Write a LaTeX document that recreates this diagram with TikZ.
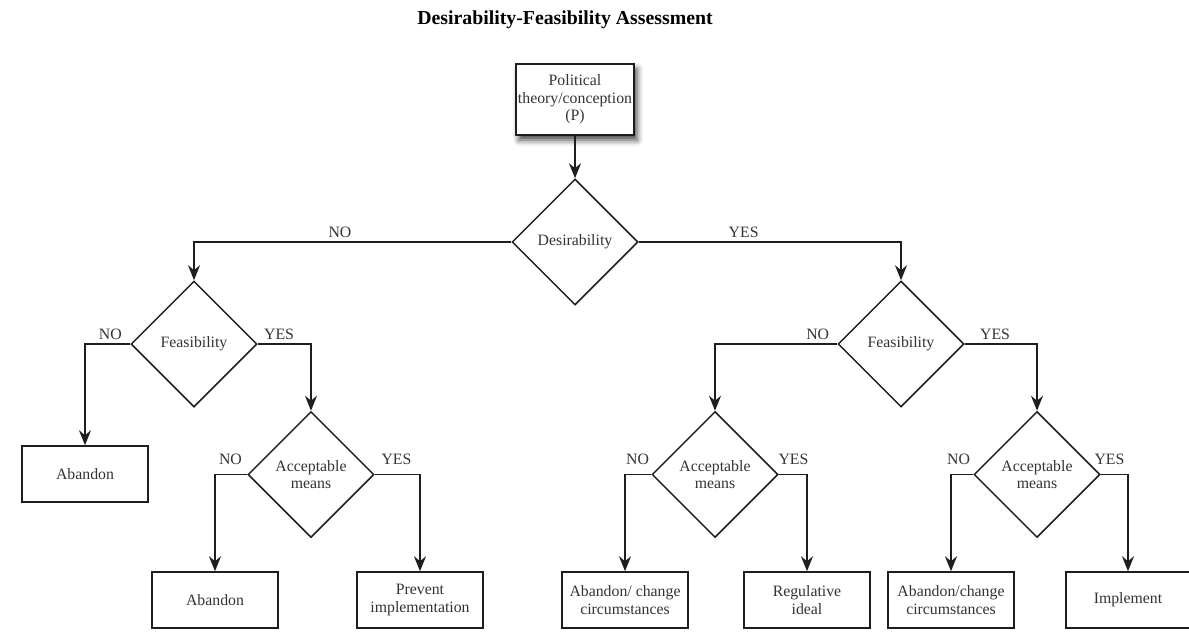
\documentclass[tikz,border=0pt]{standalone}
\usepackage{fontspec}
\setmainfont{Liberation Serif}
\usetikzlibrary{arrows.meta, positioning, shapes.geometric, shadows.blur}
\definecolor{ink}{HTML}{1E1E1E}
\definecolor{txt}{HTML}{333333}
\tikzset{
  font=\fontsize{15.8}{17.5}\selectfont,
  >={Stealth[length=15pt, width=12pt, inset=5pt]},
  %
  box/.style={
    draw=ink, line width=1.5pt, fill=white, align=center, text=txt,
    minimum width=126pt, minimum height=56pt, inner sep=2pt,
  },
  startbox/.style={box, minimum width=114pt, minimum height=71pt,
    blur shadow={shadow xshift=3pt, shadow yshift=-5pt,
                 shadow blur radius=6pt, shadow opacity=75}},
  decision/.style={
    diamond, draw=ink, line width=1.5pt, fill=white, align=center,
    text=txt, minimum size=126pt, inner sep=0pt,
  },
  %
  flow/.style={draw=ink, line width=1.8pt, ->},
  lbl/.style={text=txt, inner sep=3.5pt},
  lblhi/.style={lbl, yshift=5pt},
}
\begin{document}
\begin{tikzpicture}[x=1pt, y=-1pt]

  \useasboundingbox (0,0) rectangle (1189,632);

  \node[font=\fontsize{19.8}{22}\selectfont\bfseries] (title) at (565,20)
    {Desirability-Feasibility Assessment};

  \node[startbox] (pol) at (575,99.5) {Political\\theory/conception\\(P)};

  % decisions
  \node[decision] (des)   at (575,242)   {Desirability};
  \node[decision] (feasL) at (194,344)   {Feasibility};
  \node[decision] (feasR) at (901,344)   {Feasibility};
  \node[decision] (accL)  at (311,474.5) {Acceptable\\means};
  \node[decision] (accM)  at (715,474.5) {Acceptable\\means};
  \node[decision] (accR)  at (1037,474.5) {Acceptable\\means};

  % outcomes
  \node[box] (abandonA) at (85,474)   {Abandon};
  \node[box] (abandonB) at (215,600)  {Abandon};
  \node[box] (prevent)  at (420,600)  {Prevent\\implementation};
  \node[box] (changeA)  at (625,600)  {Abandon/ change\\circumstances};
  \node[box] (ideal)    at (807,600)  {Regulative\\ideal};
  \node[box] (changeB)  at (951,600)  {Abandon/change\\circumstances};
  \node[box, minimum width=124pt] (impl) at (1128,600) {Implement};

  \draw[flow] (pol) -- (des);
  \draw[flow] (des.west) -| node[lbl, above, pos=0.27] {NO} (feasL.north);
  \draw[flow] (des.east) -| node[lbl, above, pos=0.2] {YES} (feasR.north);

  \draw[flow] (feasL.west) -| node[lbl, above, pos=0.22] {NO} (abandonA.north);
  \draw[flow] (feasL.east) -| node[lbl, above, pos=0.2] {YES} (accL.north);
  \draw[flow] (feasR.west) -| node[lbl, above, pos=0.08] {NO} (accM.north);
  \draw[flow] (feasR.east) -| node[lbl, above, pos=0.21] {YES} (accR.north);

  \draw[flow] (accL.west) -| node[lblhi, above, pos=0.26] {NO} (abandonB.north);
  \draw[flow] (accL.east) -| node[lblhi, above, pos=0.24] {YES} (prevent.north);
  \draw[flow] (accM.west) -| node[lblhi, above, pos=0.26] {NO} (changeA.north);
  \draw[flow] (accM.east) -| node[lblhi, above, pos=0.26] {YES} (ideal.north);
  \draw[flow] (accR.west) -| node[lblhi, above, pos=0.33] {NO} (changeB.north);
  \draw[flow] (accR.east) -| node[lblhi, above, pos=0.16] {YES} (impl.north);

\end{tikzpicture}
\end{document}
